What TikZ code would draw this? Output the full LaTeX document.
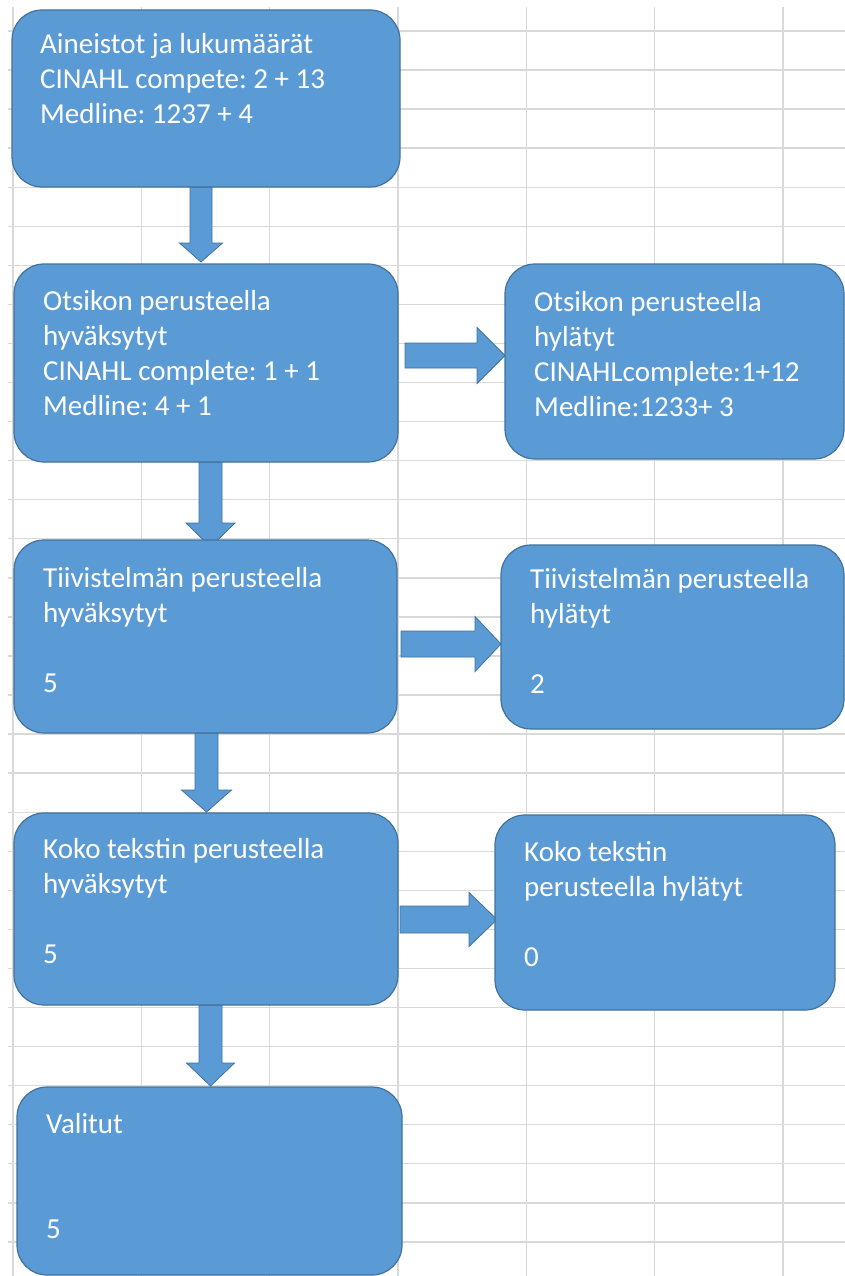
\documentclass[tikz,border=0pt]{standalone}
\usepackage{fontspec}
\setmainfont{Carlito}
\usetikzlibrary{calc}
\frenchspacing
\definecolor{boxfill}{HTML}{5B9BD5}
\definecolor{boxline}{HTML}{41719C}
\definecolor{gridgray}{HTML}{D9D9D9}
\tikzset{
  flowbox/.style={draw=boxline, fill=boxfill, line width=1.2pt, rounded corners=30pt, inner sep=0pt, outer sep=0pt, anchor=north west},
  boxtext/.style={text=white, font=\fontsize{29}{35}\selectfont\frenchspacing, align=left, anchor=base west, inner sep=0pt},
  blockarrow/.style={draw=boxline, fill=boxfill, line width=0.8pt, line join=miter},
  gridline/.style={draw=gridgray, line width=1.4pt}
}
% start, tip, shaft half width, head half width, head length
\newcommand\flowdown[5]{%
  \path[blockarrow] ($(#1)+(-#3,0)$) -- ($(#2)+(-#3,-#5)$) -- ($(#2)+(-#4,-#5)$) -- (#2)
    -- ($(#2)+(#4,-#5)$) -- ($(#2)+(#3,-#5)$) -- ($(#1)+(#3,0)$) -- cycle;}
\newcommand\flowright[5]{%
  \path[blockarrow] ($(#1)+(0,-#3)$) -- ($(#2)+(-#5,-#3)$) -- ($(#2)+(-#5,-#4)$) -- (#2)
    -- ($(#2)+(-#5,#4)$) -- ($(#2)+(-#5,#3)$) -- ($(#1)+(0,#3)$) -- cycle;}
\begin{document}
\begin{tikzpicture}[x=1pt, y=-1pt]
\useasboundingbox (0,0) rectangle (845,1276);
\fill[white] (0,0) rectangle (845,1276);
% spreadsheet grid
\foreach \gx in {13,141.3,269.6,397.9,526.2,654.5,782.8}
  \draw[gridline] (\gx,7) -- (\gx,1276);
\foreach \k in {0,...,31}
  \draw[gridline] (8,{31+39.06*\k}) -- (845,{31+39.06*\k});
% arrow end points
\coordinate (d1s) at (201,187);   \coordinate (d1e) at (201,262);
\coordinate (d2s) at (210.5,462); \coordinate (d2e) at (210.5,547);
\coordinate (d3s) at (206.5,733); \coordinate (d3e) at (206.5,812);
\coordinate (d4s) at (210.5,1005);\coordinate (d4e) at (210.5,1086);
\coordinate (r1s) at (405,355.5); \coordinate (r1e) at (505,355.5);
\coordinate (r2s) at (401,644);   \coordinate (r2e) at (501,644);
\coordinate (r3s) at (400,919.5); \coordinate (r3e) at (497,919.5);
% block arrows
\flowdown{d1s}{d1e}{11}{21.5}{19}
\flowdown{d2s}{d2e}{11.5}{24.5}{24}
\flowdown{d3s}{d3e}{11.5}{25}{22}
\flowdown{d4s}{d4e}{11.5}{24}{23}
\flowright{r1s}{r1e}{12.5}{28}{28}
\flowright{r2s}{r2e}{13}{27.5}{26}
\flowright{r3s}{r3e}{13.5}{27}{28}
% boxes
\node[flowbox, minimum width=388pt, minimum height=177pt] (b1) at (12,10) {};
\node[flowbox, minimum width=384pt, minimum height=198pt] (b2) at (14,264) {};
\node[flowbox, minimum width=339pt, minimum height=195pt] (b3) at (505,264) {};
\node[flowbox, minimum width=383pt, minimum height=193pt] (b4) at (14,540) {};
\node[flowbox, minimum width=343pt, minimum height=184pt] (b5) at (501,545) {};
\node[flowbox, minimum width=384pt, minimum height=192pt] (b6) at (14,813) {};
\node[flowbox, minimum width=340pt, minimum height=195pt] (b7) at (495,815) {};
\node[flowbox, minimum width=385pt, minimum height=188pt] (b8) at (17,1087) {};
% texts (anchored at the baseline of their last line)
\node[boxtext] (t1) at (40,124) {Aineistot ja lukumäärät\\CINAHL compete: 2 + 13\\Medline: 1237 + 4};
\node[boxtext] (t2) at (43,415) {Otsikon perusteella\\hyväksytyt\\CINAHL complete: 1 + 1\\Medline: 4 + 1};
\node[boxtext] (t3) at (534,416) {Otsikon perusteella\\hylätyt\\CINAHLcomplete:1+12\\Medline:1233+ 3};
\node[boxtext] (t4) at (43,692) {Tiivistelmän perusteella\\hyväksytyt\\[35pt]5};
\node[boxtext] (t5) at (530,693) {Tiivistelmän perusteella\\hylätyt\\[35pt]2};
\node[boxtext] (t6) at (43,963) {Koko tekstin perusteella\\hyväksytyt\\[35pt]5};
\node[boxtext] (t7) at (524,966) {Koko tekstin\\perusteella hylätyt\\[35pt]0};
\node[boxtext] (t8) at (46,1238) {Valitut\\[70pt]5};
\end{tikzpicture}
\end{document}
